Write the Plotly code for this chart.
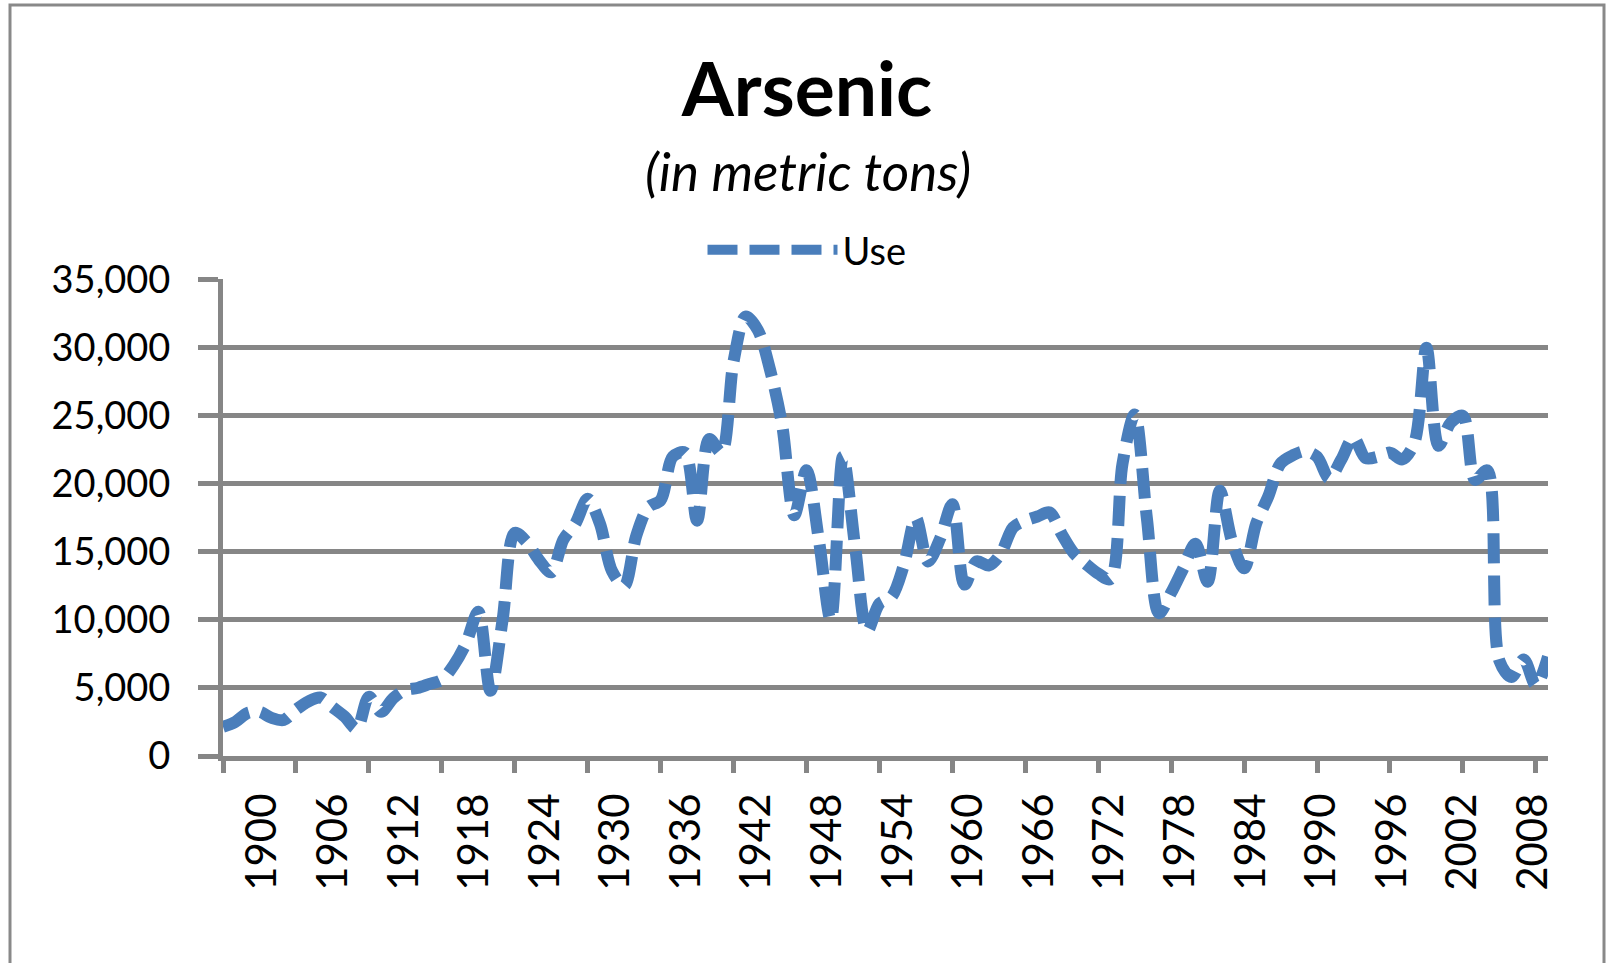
"""
arsenic_use.py
Arsenic use (metric tons), 1900-2009, dashed smoothed line.
"""

import plotly.graph_objects as go

# ---------------------------------------------------------------------------
# data
# ---------------------------------------------------------------------------

YEARS = list(range(1900, 2010))
USE_T = [
    2150, 2500, 3150, 3250, 2800, 2650, 3400, 4000, 4300, 3600,    # 1900s
    2900, 2000, 4350, 3250, 4250, 4850, 5000, 5300, 5600, 6700,    # 1910s
    8300, 10600, 4800, 10000, 16400, 15700, 14400, 13500, 15900, 17100,  # 1920s
    18900, 17100, 13600, 12500, 16200, 18300, 18800, 22000, 22300, 17300,  # 1930s
    23300, 22300, 29000, 32300, 31300, 28400, 24300, 17700, 21000, 16000,  # 1940s
    10000, 22000, 15400, 9200, 11200, 11700, 14000, 17500, 14300, 16000,  # 1950s
    18500, 12600, 14300, 14000, 14900, 16800, 17300, 17600, 17900, 16300,  # 1960s
    14900, 14100, 13400, 13000, 21500, 25100, 17500, 10500, 12000, 13800,  # 1970s
    15600, 12800, 19500, 15800, 13800, 17100, 19100, 21500, 22100, 22400,  # 1980s
    22000, 20400, 21800, 23400, 21900, 22000, 22300, 21800, 23000, 30000,  # 1990s
    22800, 24500, 25000, 20300, 21000, 7000, 5800, 7100, 5200, 7300,      # 2000s
]

Y_TICKS = [0, 5000, 10000, 15000, 20000, 25000, 30000, 35000]
X_TICK_YEARS = list(range(1900, 2009, 6))
X_TICK_TEXT = [str(y) for y in X_TICK_YEARS]

SERIES_NAME = "Use"
TITLE = "Arsenic"
SUBTITLE = "(in metric tons)"

# ---------------------------------------------------------------------------
# style  (pixel targets are page pixels)
# ---------------------------------------------------------------------------

FONT = "Lato"
LINE_BLUE = "#4A7EBB"
GRID_GRAY = "#868686"
PAGE_W, PAGE_H = 1615, 963
FIG_W, FIG_H = PAGE_W, PAGE_H
PLOT_L, PLOT_R, PLOT_T, PLOT_B = 223, 1548, 279, 756
PAPER_R = 1592          # paper extends a little past the plot so the last label fits
LABEL_SHIFT_PX = 41     # excel draws the year labels a bit right of their ticks

paper_w = PAPER_R - PLOT_L
paper_h = PLOT_B - PLOT_T


def px_x(px):
    return (px - PLOT_L) / paper_w


def px_y(py):
    return (PLOT_B - py) / paper_h


x_span = YEARS[-1] - YEARS[0]
px_per_year = (PLOT_R - PLOT_L) / x_span
x_dom_end = (PLOT_R - PLOT_L) / paper_w
label_x0 = YEARS[0] - LABEL_SHIFT_PX / px_per_year
label_x1 = label_x0 + paper_w / px_per_year

fig = go.Figure()
fig.add_trace(go.Scatter(
    x=YEARS,
    y=USE_T,
    mode="lines",
    name=SERIES_NAME,
    line=dict(color=LINE_BLUE, width=12, dash="30px,12px", shape="spline", smoothing=0.9),
))
# invisible companion so the label axis gets drawn
fig.add_trace(go.Scatter(
    x=[YEARS[0]], y=[None], xaxis="x2", yaxis="y",
    mode="lines", showlegend=False, hoverinfo="skip",
))

fig.update_layout(
    width=FIG_W,
    height=FIG_H,
    paper_bgcolor="white",
    plot_bgcolor="white",
    font=dict(family=FONT, size=38, color="black"),
    margin=dict(l=PLOT_L, r=PAGE_W - PAPER_R, t=PLOT_T, b=PAGE_H - PLOT_B,
                pad=0, autoexpand=False),
    title=dict(
        text=f"<b>{TITLE}</b>",
        font=dict(family=FONT, size=75, color="black"),
        x=807 / FIG_W, xref="container", xanchor="center",
        y=1 - 90 / FIG_H, yref="container", yanchor="middle",
    ),
    showlegend=True,
    legend=dict(
        orientation="h",
        x=807 / FIG_W, xref="container", xanchor="center",
        y=px_y(250), yanchor="middle",
        font=dict(family=FONT, size=38, color="black"),
        itemwidth=130,
        bgcolor="rgba(0,0,0,0)",
    ),
    xaxis=dict(
        domain=[0, x_dom_end],
        range=[YEARS[0], YEARS[-1]],
        showgrid=False,
        zeroline=False,
        showline=True, linecolor=GRID_GRAY, linewidth=5,
        tickmode="array", tickvals=X_TICK_YEARS,
        ticks="outside", ticklen=12, tickwidth=5, tickcolor=GRID_GRAY,
        showticklabels=False,
    ),
    xaxis2=dict(
        domain=[0, 1],
        range=[label_x0, label_x1],
        overlaying="x", anchor="y", side="bottom",
        showgrid=False, zeroline=False, showline=False,
        tickmode="array", tickvals=X_TICK_YEARS, ticktext=X_TICK_TEXT,
        ticks="", tickangle=-90,
        tickfont=dict(family=FONT, size=42, color="black"),
        ticklabelstandoff=28,
    ),
    yaxis=dict(
        range=[0, 35060],
        tickmode="array", tickvals=Y_TICKS, tickformat=",d",
        showgrid=True, gridcolor=GRID_GRAY, gridwidth=5,
        zeroline=False,
        showline=True, linecolor=GRID_GRAY, linewidth=5,
        ticks="outside", ticklen=20, tickwidth=5, tickcolor=GRID_GRAY,
        tickfont=dict(family=FONT, size=38, color="black"),
        ticklabelstandoff=20,
    ),
)

# subtitle under the bold title
fig.add_annotation(
    text=f"<i>{SUBTITLE}</i>",
    xref="paper", yref="paper",
    x=px_x(808), y=px_y(170.5),
    xanchor="center", yanchor="middle",
    showarrow=False,
    font=dict(family=FONT, size=53, color="black"),
)

# chart-area border (runs off the bottom of the page, as in the source)
fig.add_shape(
    type="rect", xref="paper", yref="paper",
    x0=px_x(10), x1=px_x(1604), y0=px_y(985), y1=px_y(5),
    line=dict(color="#898989", width=3),
    fillcolor="rgba(0,0,0,0)",
    layer="below",
)

# page has no body margin so the figure sits at the window's corner
fig.write_html(
    "out.html",
    config={"displayModeBar": False},
    post_script="document.body.style.margin='0';",
)
